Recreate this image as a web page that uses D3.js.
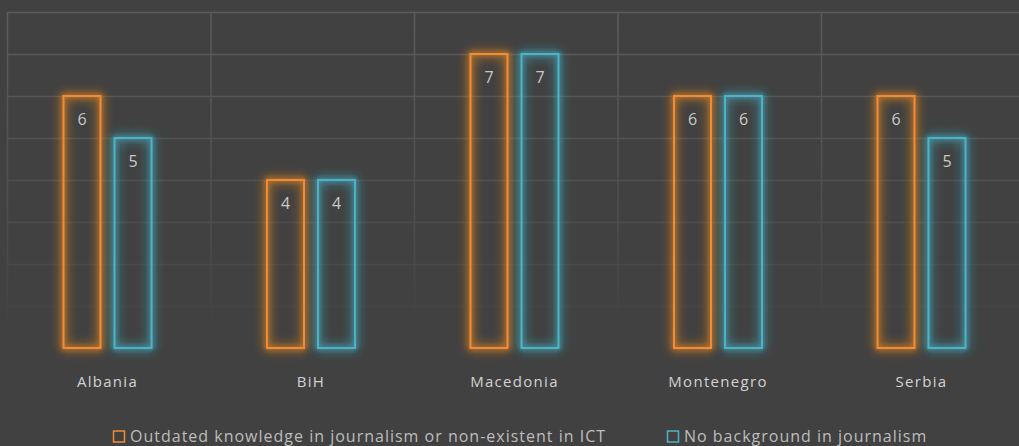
<!DOCTYPE html>
<html>
<head>
<meta charset="utf-8">
<script src="https://cdn.jsdelivr.net/npm/d3@7"></script>
<style>
  html, body { margin: 0; padding: 0; background: #414141; }
  svg { display: block; }
</style>
</head>
<body>
<div id="chart"></div>
<script>
"use strict";

var countries = ["Albania", "BiH", "Macedonia", "Montenegro", "Serbia"];
var seriesNames = ["Outdated knowledge in journalism or non-existent in ICT", "No background in journalism"];
var outdated = [6, 4, 7, 6, 6];
var noBackground = [5, 4, 7, 6, 5];
var colors = ["#f28c33", "#4bb3c8"];

var width = 1019;
var height = 446;
var svg = d3.select('#chart').append('svg')
  .attr('width', width)
  .attr('height', height);

svg.append('rect').attr('width', width).attr('height', height).attr('fill', '#414141');

var defs = svg.append('defs');
// gridlines fade out toward the bottom
var grad = defs.append('linearGradient')
  .attr('id', 'gridFade')
  .attr('gradientUnits', 'userSpaceOnUse')
  .attr('x1', 0).attr('y1', 12).attr('x2', 0).attr('y2', 330);
grad.append('stop').attr('offset', '0%').attr('stop-color', '#5c5c5c');
grad.append('stop').attr('offset', '65%').attr('stop-color', '#4e4e4e');
grad.append('stop').attr('offset', '100%').attr('stop-color', '#414141');

// soft glow: a wide faint halo plus a tighter one under the sharp stroke
var glow = defs.append('filter').attr('id', 'glow')
  .attr('x', '-50%').attr('y', '-20%').attr('width', '200%').attr('height', '140%');
glow.append('feGaussianBlur').attr('in', 'SourceGraphic').attr('stdDeviation', 6).attr('result', 'wide');
glow.append('feGaussianBlur').attr('in', 'SourceGraphic').attr('stdDeviation', 2.5).attr('result', 'tight');
var merge = glow.append('feMerge');
merge.append('feMergeNode').attr('in', 'wide');
merge.append('feMergeNode').attr('in', 'wide');
merge.append('feMergeNode').attr('in', 'tight');
merge.append('feMergeNode').attr('in', 'SourceGraphic');

var x = d3.scaleBand().domain(countries).range([7, 1024.5]).paddingInner(0).paddingOuter(0);
var x1 = d3.scaleBand().domain(seriesNames).range([56.5, 144.5]).paddingInner(0.275);
var y = d3.scaleLinear().domain([0, 8]).range([348, 12]);

// grid
var grid = svg.append('g');
grid.selectAll('line.h')
  .data(d3.range(1, 9))
  .enter().append('line')
  .attr('x1', 7).attr('x2', width)
  .attr('y1', function(d) { return y(d) + 0.5; })
  .attr('y2', function(d) { return y(d) + 0.5; })
  .attr('stroke', 'url(#gridFade)')
  .attr('stroke-width', 1.5);
grid.selectAll('line.v')
  .data(countries)
  .enter().append('line')
  .attr('x1', function(d) { return x(d) + 0.5; })
  .attr('x2', function(d) { return x(d) + 0.5; })
  .attr('y1', 12).attr('y2', 348)
  .attr('stroke', 'url(#gridFade)')
  .attr('stroke-width', 1.5);

var rows = countries.map(function(c, i) {
  return { country: c, values: [outdated[i], noBackground[i]] };
});

var groups = svg.selectAll('.country')
  .data(rows).enter().append('g')
  .attr('transform', function(d) { return 'translate(' + x(d.country) + ',0)'; });

var bars = groups.selectAll('g.bar')
  .data(function(d) {
    return d.values.map(function(v, i) { return { name: seriesNames[i], value: v, idx: i }; });
  })
  .enter().append('g');

bars.append('rect')
  .attr('x', function(d) { return x1(d.name); })
  .attr('y', function(d) { return y(d.value); })
  .attr('width', x1.bandwidth())
  .attr('height', function(d) { return y(0) - y(d.value); })
  .attr('fill', 'none')
  .attr('stroke', function(d) { return colors[d.idx]; })
  .attr('stroke-width', 2)
  .attr('filter', 'url(#glow)');

bars.append('text')
  .attr('x', function(d) { return x1(d.name) + x1.bandwidth() / 2; })
  .attr('y', function(d) { return y(d.value) + 29; })
  .attr('text-anchor', 'middle')
  .attr('fill', '#c9c9c9')
  .style('font-family', 'Open Sans, sans-serif')
  .style('font-size', '16px')
  .text(function(d) { return d.value; });

// category labels
svg.selectAll('text.cat')
  .data(countries).enter().append('text')
  .attr('x', function(d) { return x(d) + 100.5; })
  .attr('y', 387)
  .attr('text-anchor', 'middle')
  .attr('fill', '#d2d2d2')
  .style('font-family', 'Open Sans, sans-serif')
  .style('font-size', '15px')
  .style('letter-spacing', '1.3px')
  .text(function(d) { return d; });

// legend
var legendX = [113, 667];
var legend = svg.selectAll('g.legend')
  .data(seriesNames).enter().append('g')
  .attr('transform', function(d, i) { return 'translate(' + legendX[i] + ',430)'; });
legend.append('rect')
  .attr('x', 0.5).attr('y', 1)
  .attr('width', 11).attr('height', 11)
  .attr('fill', 'none')
  .attr('stroke', function(d, i) { return colors[i]; })
  .attr('stroke-width', 1.5);
legend.append('text')
  .attr('x', 17).attr('y', 12)
  .attr('fill', '#bdbdbd')
  .style('font-family', 'Open Sans, sans-serif')
  .style('font-size', '16px')
  .style('letter-spacing', '1px')
  .text(function(d) { return d; });
</script>
</body>
</html>
